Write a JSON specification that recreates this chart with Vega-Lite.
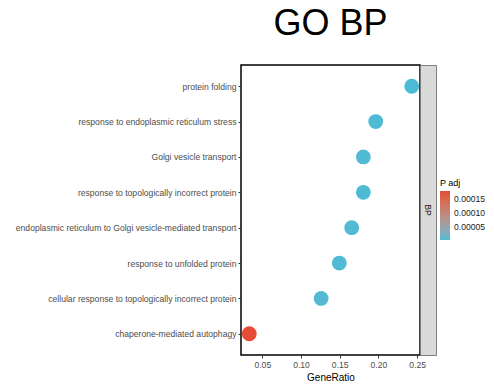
{
  "$schema": "https://vega.github.io/schema/vega-lite/v6.json",
  "background": "white",
  "padding": {"left": 14, "top": 5, "right": 5, "bottom": 5},
  "config": {
    "font": "Liberation Sans",
    "axis": {"grid": false, "domain": false}
  },
  "spacing": 0,
  "bounds": "flush",
  "hconcat": [
    {
      "title": {"text": "GO BP", "fontSize": 36, "fontWeight": "normal", "color": "black", "anchor": "middle", "frame": "group", "offset": 22},
      "width": 179,
      "height": 290,
      "view": {"fill": "white", "stroke": "black", "strokeWidth": 1.5},
      "data": {
        "values": [
          {"Description": "protein folding", "GeneRatio": 0.243, "p_adjust": 0.0000045},
          {"Description": "response to endoplasmic reticulum stress", "GeneRatio": 0.1965, "p_adjust": 0.000005},
          {"Description": "Golgi vesicle transport", "GeneRatio": 0.1805, "p_adjust": 0.000006},
          {"Description": "response to topologically incorrect protein", "GeneRatio": 0.1805, "p_adjust": 0.000005},
          {"Description": "endoplasmic reticulum to Golgi vesicle-mediated transport", "GeneRatio": 0.1655, "p_adjust": 0.000007},
          {"Description": "response to unfolded protein", "GeneRatio": 0.1495, "p_adjust": 0.000006},
          {"Description": "cellular response to topologically incorrect protein", "GeneRatio": 0.126, "p_adjust": 0.000008},
          {"Description": "chaperone-mediated autophagy", "GeneRatio": 0.0332, "p_adjust": 0.000177}
        ]
      },
      "mark": {"type": "circle", "size": 220, "opacity": 1},
      "encoding": {
        "x": {
          "field": "GeneRatio",
          "type": "quantitative",
          "scale": {"domain": [0.0225, 0.2537], "nice": false, "zero": false},
          "axis": {
            "values": [0.05, 0.1, 0.15, 0.2, 0.25],
            "format": ".2f",
            "title": "GeneRatio",
            "titleFontSize": 10,
            "titleFontWeight": "normal",
            "titleColor": "black",
            "titlePadding": 4,
            "labelFontSize": 8.6,
            "labelColor": "#4D4D4D",
            "labelPadding": 2,
            "tickColor": "#333333",
            "tickSize": 3
          }
        },
        "y": {
          "field": "Description",
          "type": "nominal",
          "sort": null,
          "scale": {"type": "point", "padding": 0.6},
          "axis": {
            "title": null,
            "labelFontSize": 8.6,
            "labelColor": "#4D4D4D",
            "labelPadding": 2,
            "labelLimit": 400,
            "tickColor": "#333333",
            "tickSize": 3
          }
        },
        "color": {
          "field": "p_adjust",
          "type": "quantitative",
          "scale": {"range": ["#4DBBD5", "#E64B35"], "interpolate": "lab", "nice": false, "zero": false},
          "legend": {
            "title": "P adj",
            "titleFontSize": 9,
            "titleFontWeight": "normal",
            "titleColor": "black",
            "titlePadding": 3,
            "values": [0.00005, 0.0001, 0.00015],
            "format": ".5f",
            "labelFontSize": 8.6,
            "labelColor": "#1A1A1A",
            "labelOffset": 4,
            "gradientLength": 49,
            "gradientThickness": 10,
            "gradientStrokeWidth": 0,
            "orient": "none",
            "legendX": 199,
            "legendY": 114
          }
        }
      }
    },
    {
      "width": 16,
      "height": 290,
      "view": {"fill": "#D9D9D9", "stroke": "#7F7F7F", "strokeWidth": 1},
      "data": {"values": [{"ONTOLOGY": "BP"}]},
      "mark": {"type": "text", "angle": 90, "align": "center", "baseline": "middle", "fontSize": 8.6, "color": "#1A1A1A"},
      "encoding": {
        "text": {"field": "ONTOLOGY", "type": "nominal"}
      }
    }
  ]
}
